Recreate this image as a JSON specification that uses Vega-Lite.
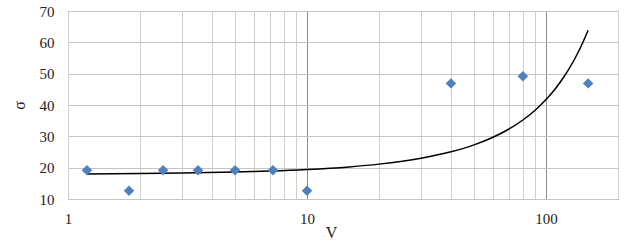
{
  "$schema": "https://vega.github.io/schema/vega-lite/v6.json",
  "width": 550,
  "height": 188,
  "autosize": {"type": "none"},
  "padding": {"left": 68, "top": 11, "right": 24, "bottom": 43},
  "background": "white",
  "config": {
    "font": "Liberation Serif, Times New Roman, serif",
    "view": {"stroke": "#8c8c8c", "strokeWidth": 1},
    "axis": {"labelFont": "Liberation Serif, Times New Roman, serif", "titleFont": "Liberation Serif, Times New Roman, serif", "labelFontSize": 15, "titleFontSize": 16, "labelColor": "#222", "titleColor": "#222", "titleFontWeight": "normal", "domain": false, "ticks": false, "labelOverlap": false, "labelFlush": false}
  },
  "datasets": {
    "pts": [
      {"V": 1.2, "s": 19.2},
      {"V": 1.8, "s": 12.6},
      {"V": 2.5, "s": 19.2},
      {"V": 3.5, "s": 19.2},
      {"V": 5, "s": 19.2},
      {"V": 7.2, "s": 19.2},
      {"V": 10, "s": 12.6},
      {"V": 40, "s": 46.9},
      {"V": 80, "s": 49.2},
      {"V": 150, "s": 46.9}
    ],
    "curve": [
      {"V": 1.2, "s": 18.0},
      {"V": 2, "s": 18.1},
      {"V": 3, "s": 18.26},
      {"V": 5, "s": 18.58},
      {"V": 7, "s": 18.9},
      {"V": 10, "s": 19.4},
      {"V": 15, "s": 20.25},
      {"V": 20, "s": 21.13},
      {"V": 30, "s": 23.01},
      {"V": 40, "s": 25.05},
      {"V": 50, "s": 27.28},
      {"V": 60, "s": 29.7},
      {"V": 70, "s": 32.34},
      {"V": 80, "s": 35.21},
      {"V": 90, "s": 38.34},
      {"V": 100, "s": 41.74},
      {"V": 110, "s": 45.45},
      {"V": 120, "s": 49.49},
      {"V": 130, "s": 53.88},
      {"V": 140, "s": 58.67},
      {"V": 150, "s": 63.88}
    ]
  },
  "encoding": {
    "x": {
      "field": "V", "type": "quantitative",
      "scale": {"type": "log", "domain": [1, 200], "nice": false},
      "axis": {
        "title": "V",
        "values": [1, 2, 3, 4, 5, 6, 7, 8, 9, 10, 20, 30, 40, 50, 60, 70, 80, 90, 100, 200],
        "labelExpr": "(datum.value == 1 || datum.value == 10 || datum.value == 100) ? format(datum.value, 'd') : ''",
        "labelPadding": 12,
        "titlePadding": -2,
        "titleX": 263,
        "gridColor": {"condition": {"test": "datum.value == 10 || datum.value == 100", "value": "#8c8c8c"}, "value": "#cfcfcf"},
        "gridWidth": 1
      }
    },
    "y": {
      "field": "s", "type": "quantitative",
      "scale": {"domain": [10, 70], "nice": false, "zero": false},
      "axis": {
        "title": "σ",
        "values": [10, 20, 30, 40, 50, 60, 70],
        "tickCount": 7,
        "labelPadding": 14,
        "titlePadding": 12,
        "titleAngle": -90,
        "gridColor": "#c4c4c4"
      }
    }
  },
  "layer": [
    {
      "data": {"name": "curve"},
      "mark": {"type": "line", "color": "black", "strokeWidth": 1.5, "interpolate": "monotone"}
    },
    {
      "data": {"name": "pts"},
      "mark": {"type": "point", "shape": "diamond", "filled": true, "size": 110, "color": "#4f81bd", "opacity": 1}
    }
  ]
}
